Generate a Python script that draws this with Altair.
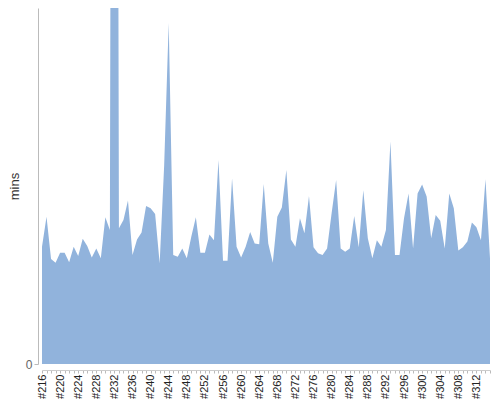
import altair as alt
import pandas as pd

runs = [f"#{n}" for n in range(216, 316)]
mins = [32.6, 40.9, 29.2, 28.1, 30.9, 30.9, 28.3, 32.6, 30.0, 34.8,
        32.8, 29.6, 32.1, 29.4, 40.8, 37.2, 600.0, 37.7, 40.0, 45.4,
        30.3, 34.6, 36.5, 43.9, 43.3, 41.7, 28.0, 55.3, 94.7, 30.3,
        29.8, 32.1, 29.4, 35.4, 40.8, 30.9, 30.9, 36.0, 34.4, 56.7,
        28.7, 28.7, 51.6, 32.6, 29.6, 32.6, 36.7, 33.5, 33.3, 50.0,
        33.5, 28.1, 40.9, 43.5, 53.9, 34.6, 32.6, 40.5, 36.3, 46.7,
        32.4, 30.8, 30.3, 32.1, 41.9, 51.1, 32.1, 31.2, 32.1, 41.1,
        32.4, 48.3, 34.9, 29.4, 34.4, 32.6, 37.2, 61.8, 30.3, 30.3,
        40.5, 47.4, 32.1, 47.4, 49.9, 46.5, 34.9, 41.4, 39.8, 32.1,
        47.4, 43.3, 31.5, 32.4, 34.0, 39.3, 38.0, 34.4, 51.3, 29.4]

df = pd.DataFrame({"run": runs, "mins": mins})

chart = alt.Chart(df).mark_area(
    color="#91b3dc", interpolate="linear", clip=True, opacity=1
).encode(
    x=alt.X("run:O", sort=runs, title=None,
            scale=alt.Scale(type="point", padding=0),
            axis=alt.Axis(labelAngle=-90, labelFontSize=11, labelColor="#222",
                          labelFont="Liberation Sans", labelOverlap=False,
                          labelExpr="parseInt(substring(datum.value,1)) % 4 == 0 ? datum.value : ''",
                          tickSize=3, tickColor="#bbb", domainColor="#ccc",
                          labelPadding=1, offset=6, grid=False)),
    y=alt.Y("mins:Q", title="mins",
            scale=alt.Scale(domain=[0, 98.9], nice=False, zero=True),
            axis=alt.Axis(values=[0], offset=4, grid=False, tickSize=4,
                          tickColor="#bbb", domainColor="#bbb",
                          labelColor="#666666", labelFontSize=12,
                          labelFont="Liberation Sans", labelPadding=2,
                          titleFont="Liberation Sans", titleFontSize=13,
                          titleFontWeight="normal", titleColor="#333",
                          titlePadding=4)),
).properties(
    width=448, height=356,
    autosize=alt.AutoSizeParams(type="none"),
    padding={"left": 34, "top": 0, "right": 2, "bottom": 44},
).configure_view(stroke=None)

chart.save("out.html", embed_options={"renderer": "svg", "actions": False})
